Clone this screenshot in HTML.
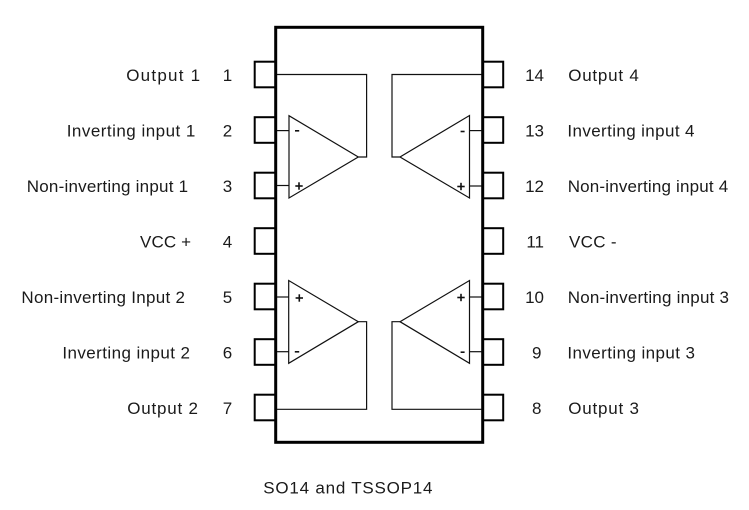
<!DOCTYPE html>
<html>
<head>
<meta charset="utf-8">
<style>
html,body{margin:0;padding:0;background:#fff;}
svg{display:block;}
text{font-family:"Liberation Sans",Arial,sans-serif;font-size:17px;fill:#1a1a1a;}
</style>
</head>
<body>
<svg width="749" height="510" viewBox="0 0 749 510" xmlns="http://www.w3.org/2000/svg">
<rect x="0" y="0" width="749" height="510" fill="#fff"/>
<!-- left pin boxes -->
<g fill="none" stroke="#000" stroke-width="2">
<rect x="254.7" y="61.7" width="21.3" height="25.6"/>
<rect x="254.7" y="117.2" width="21.3" height="25.6"/>
<rect x="254.7" y="172.7" width="21.3" height="25.6"/>
<rect x="254.7" y="228.2" width="21.3" height="25.6"/>
<rect x="254.7" y="283.7" width="21.3" height="25.6"/>
<rect x="254.7" y="339.2" width="21.3" height="25.6"/>
<rect x="254.7" y="394.7" width="21.3" height="25.6"/>
<!-- right pin boxes -->
<rect x="482.7" y="61.7" width="20.5" height="25.6"/>
<rect x="482.7" y="117.2" width="20.5" height="25.6"/>
<rect x="482.7" y="172.7" width="20.5" height="25.6"/>
<rect x="482.7" y="228.2" width="20.5" height="25.6"/>
<rect x="482.7" y="283.7" width="20.5" height="25.6"/>
<rect x="482.7" y="339.2" width="20.5" height="25.6"/>
<rect x="482.7" y="394.7" width="20.5" height="25.6"/>
</g>
<!-- package -->
<rect x="275.7" y="27.3" width="207" height="415" fill="none" stroke="#000" stroke-width="3"/>

<!-- internal wiring -->
<g fill="none" stroke="#111" stroke-width="1.2">
<!-- amp 1 (top-left) -->
<polygon points="289,115.7 289,198 358.3,157"/>
<polyline points="358.3,157 366.6,157 366.6,74.5 277,74.5"/>
<line x1="277" y1="130.6" x2="289" y2="130.6"/>
<line x1="277" y1="185.5" x2="289" y2="185.5"/>
<!-- amp 4 (top-right) -->
<polygon points="469.5,115.5 469.5,198 400,157"/>
<polyline points="400,157 392,157 392,74.5 481.5,74.5"/>
<line x1="469.5" y1="130.6" x2="481.5" y2="130.6"/>
<line x1="469.5" y1="186" x2="481.5" y2="186"/>
<!-- amp 2 (bottom-left) -->
<polygon points="288.7,280.5 288.7,363.3 358.3,321.7"/>
<polyline points="358.3,321.7 366.6,321.7 366.6,409.3 277,409.3"/>
<line x1="277" y1="297" x2="288.7" y2="297"/>
<line x1="277" y1="351.7" x2="288.7" y2="351.7"/>
<!-- amp 3 (bottom-right) -->
<polygon points="469.5,280.5 469.5,363.3 400,321.7"/>
<polyline points="400,321.7 392,321.7 392,409.3 481.5,409.3"/>
<line x1="469.5" y1="297" x2="481.5" y2="297"/>
<line x1="469.5" y1="351.7" x2="481.5" y2="351.7"/>
</g>

<!-- +/- signs -->
<g stroke="#111" stroke-width="1.6" fill="none">
<!-- amp1 -->
<line x1="295" y1="130.8" x2="299.2" y2="130.8"/>
<line x1="295.3" y1="186" x2="302.7" y2="186"/>
<line x1="299" y1="182.3" x2="299" y2="189.7"/>
<!-- amp4 -->
<line x1="460.6" y1="131.5" x2="464.6" y2="131.5"/>
<line x1="457.3" y1="186.5" x2="464.7" y2="186.5"/>
<line x1="461" y1="182.8" x2="461" y2="190.2"/>
<!-- amp2 -->
<line x1="295.6" y1="298" x2="303" y2="298"/>
<line x1="299.3" y1="294.3" x2="299.3" y2="301.7"/>
<line x1="294.8" y1="351.8" x2="299.2" y2="351.8"/>
<!-- amp3 -->
<line x1="457.3" y1="297.5" x2="464.7" y2="297.5"/>
<line x1="461" y1="293.8" x2="461" y2="301.2"/>
<line x1="460.6" y1="352.2" x2="464.6" y2="352.2"/>
</g>

<!-- left labels -->
<text x="126.2" y="81" textLength="73.9" lengthAdjust="spacing">Output 1</text>
<text x="66.7" y="136.5" textLength="128.7" lengthAdjust="spacing">Inverting input 1</text>
<text x="26.7" y="192" textLength="161.4" lengthAdjust="spacing">Non-inverting input 1</text>
<text x="140" y="247.5" textLength="51" lengthAdjust="spacing">VCC +</text>
<text x="21.4" y="303" textLength="163.6" lengthAdjust="spacing">Non-inverting Input 2</text>
<text x="62.4" y="358.5" textLength="127.6" lengthAdjust="spacing">Inverting input 2</text>
<text x="127.2" y="414" textLength="70.8" lengthAdjust="spacing">Output 2</text>

<!-- left pin numbers -->
<g text-anchor="middle">
<text x="227.5" y="81">1</text>
<text x="227.5" y="136.5">2</text>
<text x="227.5" y="192">3</text>
<text x="227.5" y="247.5">4</text>
<text x="227.5" y="303">5</text>
<text x="227.5" y="358.5">6</text>
<text x="227.5" y="414">7</text>
</g>

<!-- right pin numbers -->
<g text-anchor="end">
<text x="544" y="81">14</text>
<text x="544" y="136.5">13</text>
<text x="544" y="192">12</text>
<text x="544" y="247.5">11</text>
<text x="544" y="303">10</text>
<text x="541.5" y="358.5">9</text>
<text x="541.5" y="414">8</text>
</g>

<!-- right labels -->
<text x="568.2" y="81" textLength="70.6" lengthAdjust="spacing">Output 4</text>
<text x="567.4" y="136.5" textLength="127.1" lengthAdjust="spacing">Inverting input 4</text>
<text x="567.7" y="192" textLength="160.5" lengthAdjust="spacing">Non-inverting input 4</text>
<text x="569" y="247.5" textLength="47.5" lengthAdjust="spacing">VCC -</text>
<text x="567.7" y="303" textLength="161.3" lengthAdjust="spacing">Non-inverting input 3</text>
<text x="567.4" y="358.5" textLength="127.6" lengthAdjust="spacing">Inverting input 3</text>
<text x="568.2" y="414" textLength="70.8" lengthAdjust="spacing">Output 3</text>

<!-- caption -->
<text x="263.2" y="493.3" textLength="169.3" lengthAdjust="spacing">SO14 and TSSOP14</text>
</svg>
</body>
</html>
